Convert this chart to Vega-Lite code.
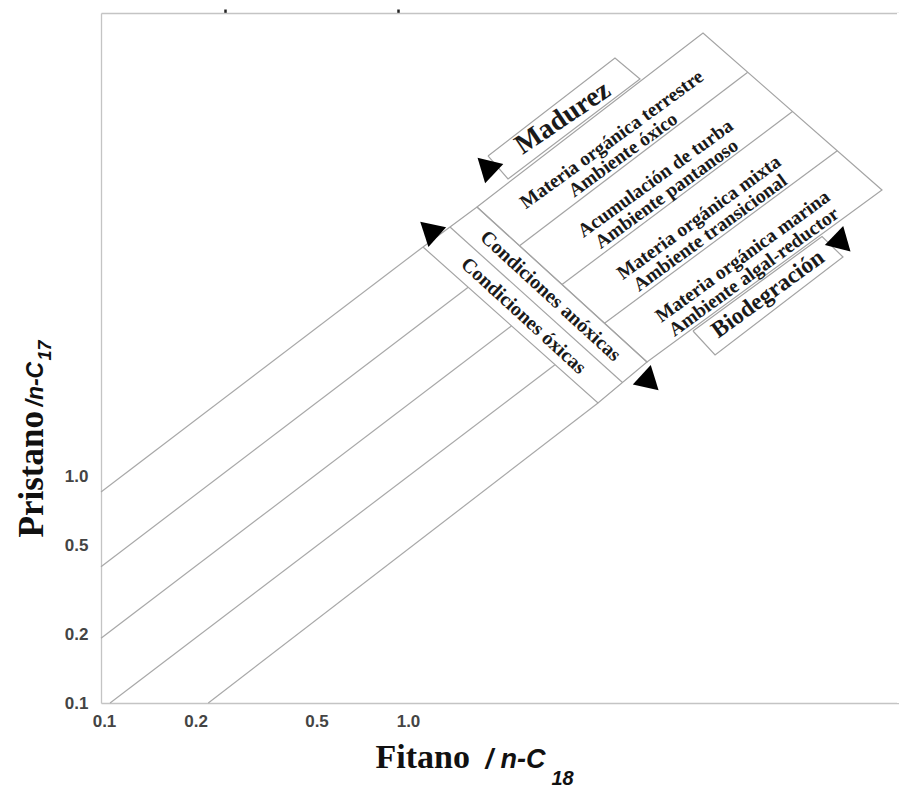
{
  "$schema": "https://vega.github.io/schema/vega-lite/v6.json",
  "width": 798,
  "height": 690,
  "autosize": {"type": "none"},
  "padding": {"left": 101, "top": 13, "right": 0, "bottom": 84},
  "background": "white",
  "config": {
    "view": {"stroke": "#ffffff", "strokeWidth": 1},
    "axis": {"grid": false}
  },
  "datasets": {
    "lines": [
      {"line": "L1", "pt": 0, "fitano": 0.1, "pristano": 0.8583},
      {"line": "L1", "pt": 1, "fitano": 1.146, "pristano": 10.42},
      {"line": "L2", "pt": 0, "fitano": 0.1, "pristano": 0.401},
      {"line": "L2", "pt": 1, "fitano": 1.614, "pristano": 6.908},
      {"line": "L3", "pt": 0, "fitano": 0.1, "pristano": 0.1933},
      {"line": "L3", "pt": 1, "fitano": 2.24, "pristano": 4.662},
      {"line": "L4", "pt": 0, "fitano": 0.1071, "pristano": 0.1},
      {"line": "L4", "pt": 1, "fitano": 3.115, "pristano": 3.14},
      {"line": "L5", "pt": 0, "fitano": 0.2254, "pristano": 0.1},
      {"line": "L5", "pt": 1, "fitano": 4.314, "pristano": 2.125}
    ],
    "boxes": [
      {"part": "strip", "seq": 0, "fitano": 1.146, "pristano": 10.42},
      {"part": "strip", "seq": 1, "fitano": 1.725, "pristano": 15.66},
      {"part": "strip", "seq": 2, "fitano": 6.253, "pristano": 3.227},
      {"part": "strip", "seq": 3, "fitano": 4.314, "pristano": 2.125},
      {"part": "strip", "seq": 4, "fitano": 1.146, "pristano": 10.42},
      {"part": "strip-div", "seq": 0, "fitano": 1.406, "pristano": 12.77},
      {"part": "strip-div", "seq": 1, "fitano": 5.193, "pristano": 2.619},
      {"part": "main", "seq": 0, "fitano": 1.725, "pristano": 15.66},
      {"part": "main", "seq": 1, "fitano": 9.557, "pristano": 92.17},
      {"part": "main", "seq": 2, "fitano": 37.07, "pristano": 18.62},
      {"part": "main", "seq": 3, "fitano": 6.253, "pristano": 3.227},
      {"part": "main", "seq": 4, "fitano": 1.725, "pristano": 15.66},
      {"part": "d1", "seq": 0, "fitano": 2.381, "pristano": 10.55},
      {"part": "d1", "seq": 1, "fitano": 13.41, "pristano": 61.79},
      {"part": "d2", "seq": 0, "fitano": 3.284, "pristano": 7.108},
      {"part": "d2", "seq": 1, "fitano": 18.82, "pristano": 41.42},
      {"part": "d3", "seq": 0, "fitano": 4.531, "pristano": 4.79},
      {"part": "d3", "seq": 1, "fitano": 26.42, "pristano": 27.77},
      {"part": "madurez", "seq": 0, "fitano": 1.875, "pristano": 26.33},
      {"part": "madurez", "seq": 1, "fitano": 4.906, "pristano": 71.45},
      {"part": "madurez", "seq": 2, "fitano": 5.93, "pristano": 57.69},
      {"part": "madurez", "seq": 3, "fitano": 2.182, "pristano": 20.83},
      {"part": "madurez", "seq": 4, "fitano": 1.875, "pristano": 26.33},
      {"part": "biodeg", "seq": 0, "fitano": 8.858, "pristano": 4.426},
      {"part": "biodeg", "seq": 1, "fitano": 23.54, "pristano": 11.59},
      {"part": "biodeg", "seq": 2, "fitano": 27.59, "pristano": 9.407},
      {"part": "biodeg", "seq": 3, "fitano": 10.47, "pristano": 3.466},
      {"part": "biodeg", "seq": 4, "fitano": 8.858, "pristano": 4.426}
    ],
    "arrows": [
      {"arrow": "condiciones-top", "points": "NW", "fitano": 1.197, "pristano": 12.45},
      {"arrow": "condiciones-bottom", "points": "SE", "fitano": 6.1, "pristano": 2.659},
      {"arrow": "madurez", "points": "SW", "fitano": 1.872, "pristano": 22.36},
      {"arrow": "biodegradacion", "points": "NE", "fitano": 27.44, "pristano": 10.8}
    ],
    "cells": [
      {"label": "Materia orgánica terrestre\nAmbiente óxico", "fitano": 4.79, "pristano": 31.14},
      {"label": "Acumulación de turba\nAmbiente pantanoso", "fitano": 6.663, "pristano": 20.93},
      {"label": "Materia orgánica mixta\nAmbiente transicional", "fitano": 9.269, "pristano": 14.07},
      {"label": "Materia orgánica marina\nAmbiente algal-reductor", "fitano": 12.91, "pristano": 9.457}
    ],
    "madurez": [
      {"label": "Madurez", "fitano": 3.309, "pristano": 38.77}
    ],
    "biodeg": [
      {"label": "Biodegración", "fitano": 15.63, "pristano": 6.453}
    ],
    "condiciones": [
      {"label": "Condiciones anóxicas", "fitano": 3.01, "pristano": 6.322},
      {"label": "Condiciones óxicas", "fitano": 2.454, "pristano": 5.157}
    ],
    "rightedge": [
      {"fitano": 42.17}
    ]
  },
  "resolve": {"axis": {"x": "independent", "y": "independent"}},
  "layer": [
    {
      "data": {"name": "lines"},
      "mark": {"type": "line", "color": "#a8a8a8", "strokeWidth": 1.2},
      "encoding": {
        "x": {"field": "fitano", "type": "quantitative",
          "scale": {"type": "log", "domain": [0.1, 42.17], "nice": false, "zero": false},
          "axis": {"orient": "bottom", "values": [0.1, 0.2, 0.5, 1], "format": ".1f",
            "labelFont": "Liberation Sans", "labelFontSize": 17, "labelFontWeight": "bold", "labelColor": "#444",
            "labelPadding": 10, "labelOffset": 3, "ticks": false, "tickSize": 0, "labelFlush": false,
            "domain": true, "domainColor": "#c4c4c4", "domainWidth": 1.3,
            "title": "Fitano", "titleX": 274, "titleY": 64, "titleAlign": "left", "titleBaseline": "alphabetic",
            "titleFont": "Liberation Serif", "titleFontSize": 34, "titleFontWeight": "bold", "titleColor": "#111"}},
        "y": {"field": "pristano", "type": "quantitative",
          "scale": {"type": "log", "domain": [0.1, 113.0], "nice": false, "zero": false},
          "axis": {"orient": "left", "values": [0.1, 0.2, 0.5, 1], "format": ".1f",
            "labelFont": "Liberation Sans", "labelFontSize": 17, "labelFontWeight": "bold", "labelColor": "#444",
            "labelPadding": 13, "ticks": false, "tickSize": 0, "labelFlush": false,
            "domain": true, "domainColor": "#c4c4c4", "domainWidth": 1.3,
            "title": "Pristano", "titleAngle": 270, "titleX": -59, "titleY": 524, "titleAlign": "left", "titleBaseline": "alphabetic",
            "titleFont": "Liberation Serif", "titleFontSize": 35, "titleFontWeight": "bold", "titleColor": "#111"}},
        "detail": {"field": "line"},
        "order": {"field": "pt"}
      }
    },
    {
      "data": {"name": "boxes"},
      "mark": {"type": "line", "color": "#a4a4a4", "strokeWidth": 1.2},
      "encoding": {
        "x": {"field": "fitano", "type": "quantitative",
          "scale": {"type": "log", "domain": [0.1, 42.17], "nice": false, "zero": false},
          "axis": {"orient": "bottom", "labels": false, "ticks": false, "domain": false,
            "title": "/ n-C", "titleX": 384, "titleY": 64, "titleAlign": "left", "titleBaseline": "alphabetic",
            "titleFont": "Liberation Sans", "titleFontSize": 27, "titleFontWeight": "bold", "titleFontStyle": "italic", "titleColor": "#111"}},
        "y": {"field": "pristano", "type": "quantitative",
          "scale": {"type": "log", "domain": [0.1, 113.0], "nice": false, "zero": false},
          "axis": {"orient": "left", "labels": false, "ticks": false, "domain": false,
            "title": "/n-C", "titleAngle": 270, "titleX": -59, "titleY": 393, "titleAlign": "left", "titleBaseline": "alphabetic",
            "titleFont": "Liberation Sans", "titleFontSize": 23, "titleFontWeight": "bold", "titleFontStyle": "italic", "titleColor": "#111"}},
        "detail": {"field": "part"},
        "order": {"field": "seq"}
      }
    },
    {
      "data": {"name": "arrows"},
      "mark": {"type": "point", "shape": "triangle-up", "filled": true, "color": "#000", "opacity": 1, "size": 700},
      "encoding": {
        "x": {"field": "fitano", "type": "quantitative",
          "scale": {"type": "log", "domain": [0.1, 42.17], "nice": false, "zero": false},
          "axis": {"orient": "bottom", "labels": false, "ticks": false, "domain": false,
            "title": "18", "titleX": 450, "titleY": 81, "titleAlign": "left", "titleBaseline": "alphabetic",
            "titleFont": "Liberation Sans", "titleFontSize": 20, "titleFontWeight": "bold", "titleFontStyle": "italic", "titleColor": "#111"}},
        "y": {"field": "pristano", "type": "quantitative",
          "scale": {"type": "log", "domain": [0.1, 113.0], "nice": false, "zero": false},
          "axis": {"orient": "left", "labels": false, "ticks": false, "domain": false,
            "title": "17", "titleAngle": 270, "titleX": -51, "titleY": 347, "titleAlign": "left", "titleBaseline": "alphabetic",
            "titleFont": "Liberation Sans", "titleFontSize": 18, "titleFontWeight": "bold", "titleFontStyle": "italic", "titleColor": "#111"}},
        "angle": {"field": "points", "type": "nominal", "legend": null,
          "scale": {"domain": ["NW", "SE", "SW", "NE"], "range": [312, 134, 238, 54]}}
      }
    },
    {
      "data": {"name": "cells"},
      "mark": {"type": "text", "angle": 324, "align": "center", "baseline": "middle", "lineBreak": "\n", "lineHeight": 19,
        "font": "Liberation Serif", "fontWeight": "bold", "fontSize": 19.5, "color": "#1a1a1a"},
      "encoding": {
        "x": {"field": "fitano", "type": "quantitative",
          "scale": {"type": "log", "domain": [0.1, 42.17], "nice": false, "zero": false},
          "axis": {"orient": "top", "values": [0.2558, 0.9506], "labels": false, "ticks": true, "tickSize": 4, "tickWidth": 2.5, "tickColor": "#222",
            "domain": true, "domainColor": "#c4c4c4", "domainWidth": 1.3, "title": null}},
        "y": {"field": "pristano", "type": "quantitative",
          "scale": {"type": "log", "domain": [0.1, 113.0], "nice": false, "zero": false}, "axis": null},
        "text": {"field": "label"}
      }
    },
    {
      "data": {"name": "madurez"},
      "mark": {"type": "text", "angle": 326, "align": "center", "baseline": "middle",
        "font": "Liberation Serif", "fontWeight": "bold", "fontSize": 28, "color": "#1a1a1a"},
      "encoding": {
        "x": {"field": "fitano", "type": "quantitative",
          "scale": {"type": "log", "domain": [0.1, 42.17], "nice": false, "zero": false}, "axis": null},
        "y": {"field": "pristano", "type": "quantitative",
          "scale": {"type": "log", "domain": [0.1, 113.0], "nice": false, "zero": false}, "axis": null},
        "text": {"field": "label"}
      }
    },
    {
      "data": {"name": "biodeg"},
      "mark": {"type": "text", "angle": 324, "align": "center", "baseline": "middle",
        "font": "Liberation Serif", "fontWeight": "bold", "fontSize": 23.5, "color": "#1a1a1a"},
      "encoding": {
        "x": {"field": "fitano", "type": "quantitative",
          "scale": {"type": "log", "domain": [0.1, 42.17], "nice": false, "zero": false}, "axis": null},
        "y": {"field": "pristano", "type": "quantitative",
          "scale": {"type": "log", "domain": [0.1, 113.0], "nice": false, "zero": false}, "axis": null},
        "text": {"field": "label"}
      }
    },
    {
      "data": {"name": "condiciones"},
      "mark": {"type": "text", "angle": 42.5, "align": "center", "baseline": "middle",
        "font": "Liberation Serif", "fontWeight": "bold", "fontSize": 20, "color": "#1a1a1a"},
      "encoding": {
        "x": {"field": "fitano", "type": "quantitative",
          "scale": {"type": "log", "domain": [0.1, 42.17], "nice": false, "zero": false}, "axis": null},
        "y": {"field": "pristano", "type": "quantitative",
          "scale": {"type": "log", "domain": [0.1, 113.0], "nice": false, "zero": false}, "axis": null},
        "text": {"field": "label"}
      }
    },
    {
      "data": {"name": "rightedge"},
      "mark": {"type": "rule", "color": "#ffffff", "strokeWidth": 4},
      "encoding": {
        "x": {"field": "fitano", "type": "quantitative",
          "scale": {"type": "log", "domain": [0.1, 42.17], "nice": false, "zero": false}, "axis": null}
      }
    }
  ]
}
